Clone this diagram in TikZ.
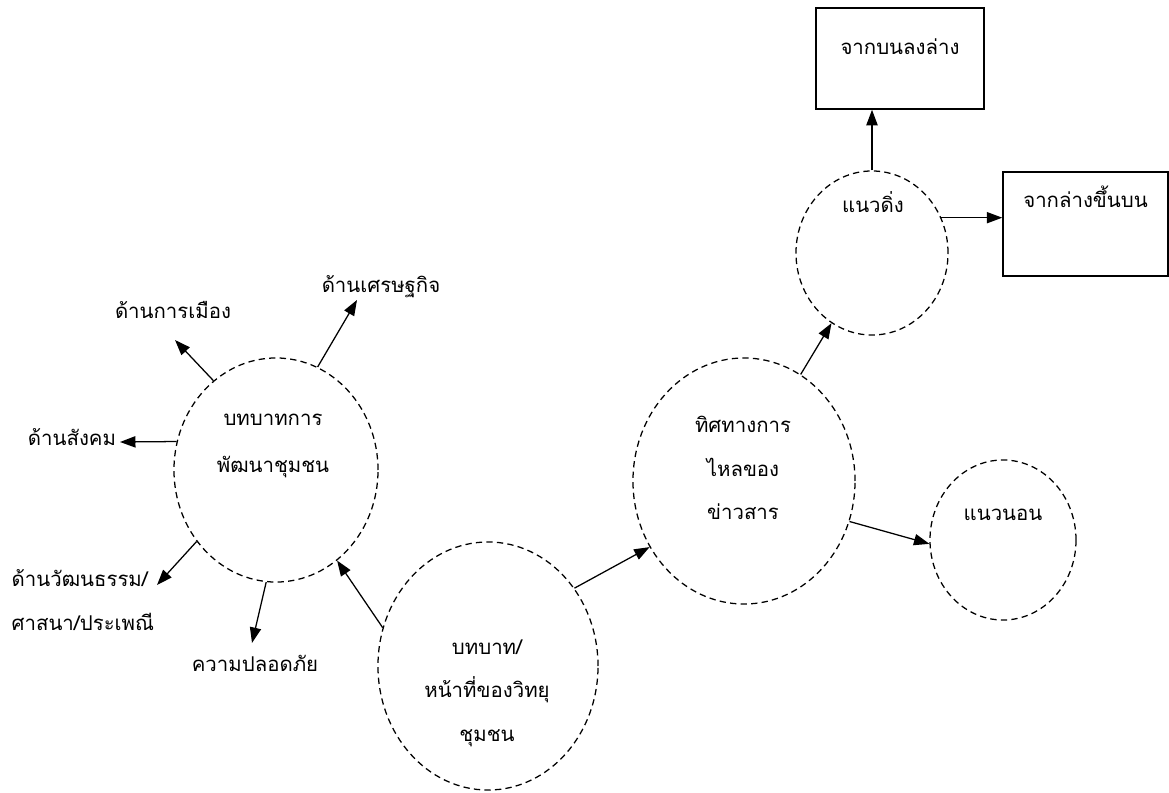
\documentclass[tikz,border=0pt]{standalone}
\usepackage{fontspec}
\newfontfamily\thaifont[Script=Thai]{Loma}
\usetikzlibrary{calc,arrows.meta,shapes.geometric}

\begin{document}
\begin{tikzpicture}[x=0.025cm, y=-0.025cm,
		every node/.style={font=\thaifont\fontsize{14.5}{31}\selectfont, inner sep=1pt},
		bubble/.style={draw, ellipse, dash pattern=on 4.5pt off 3pt, line width=0.9pt},
		box/.style={draw, line width=1.1pt, inner sep=0pt},
		arr/.style={line width=0.9pt, -{Triangle[length=11pt,width=8pt]}}]
		%%%%% START %%%%%
		
		\useasboundingbox (0,0) rectangle (1169,793);
		
		% dashed bubbles
		\node[bubble, minimum width=5.1cm, minimum height=5.6cm] (c1) at (276,470) {};
		\node[bubble, minimum width=5.5cm, minimum height=6.2cm] (c2) at (488,666) {};
		\node[bubble, minimum width=5.55cm, minimum height=6.15cm] (c3) at (744,481) {};
		\node[bubble, minimum width=3.8cm, minimum height=4.1cm] (c4) at (872,253) {};
		\node[bubble, minimum width=3.65cm, minimum height=4cm] (c5) at (1003,540) {};
		
		\node[align=center] (t1) at (273,446) {บทบาทการ\\[3pt]พัฒนาชุมชน};
		\node[align=center] (t2) at (487,693) {บทบาท/\\หน้าที่ของวิทยุ\\ชุมชน};
		\node[align=center] (t3) at (743,468) {ทิศทางการ\\ไหลของ\\ข่าวสาร};
		\node (t4) at (873,202) {แนวดิ่ง};
		\node (t5) at (1003,515) {แนวนอน};
		
		% boxes
		\node[box, minimum width=4.2cm, text height=1.175cm, text depth=1.35cm] (top) at (900,58.5) {จากบนลงล่าง};
		\node[box, minimum width=4.125cm, text height=0.9cm, text depth=1.7cm] (bot) at (1085.5,224) {จากล่างขึ้นบน};
		
		% labels round the first bubble
		\node (econ) at (381,287) {ด้านเศรษฐกิจ};
		\node (polit) at (173,310) {ด้านการเมือง};
		\node (social) at (72,437) {ด้านสังคม};
		\node[align=left, anchor=west] (culture) at (10,600) {ด้านวัฒนธรรม/\\ศาสนา/ประเพณี};
		\node (safety) at (255,663) {ความปลอดภัย};
		
		\draw[arr] (c1.68) -- ($(econ)+(-24,13)$);
		\draw[arr] (c1.125) -- ($(polit)+(2,30)$);
		\draw[arr] (c1.164) -- ($(social)+(48,5)$);
		\draw[arr] (c1.222) -- ($(culture.west)+(147,-15)$);
		\draw[arr] (c1.265) -- ($(safety)+(-3,-20)$);
		
		\draw[arr] (c2.160) -- (c1.304);
		\draw[arr] (c2.42) -- (c3.215);
		\draw[arr] (c3.62) -- (c4.240);
		\draw[arr] (c3.339) -- (c5.183);
		\draw[arr] (c4.north) -- (c4.north |- top.south);
		\draw[arr] (c4.27) -- (c4.27 -| bot.west);
		
		%%%%% END %%%%%
\end{tikzpicture}
\end{document}
